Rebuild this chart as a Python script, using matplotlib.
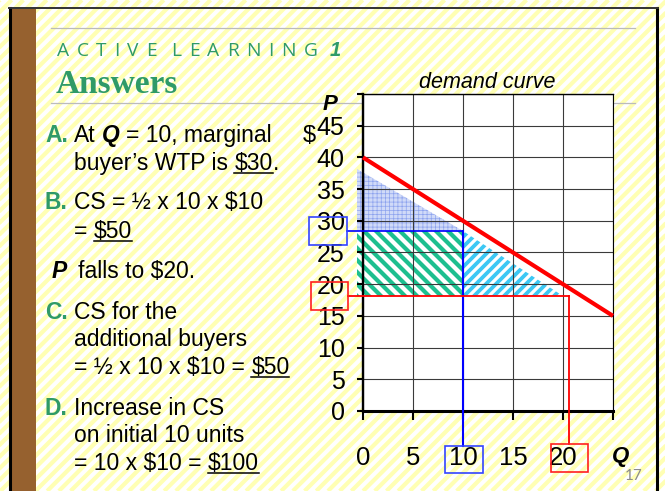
import numpy as np
import matplotlib
matplotlib.use('Agg')
import matplotlib.pyplot as plt
from matplotlib.patches import Polygon, Rectangle
from matplotlib.collections import LineCollection

plt.rcParams['font.family'] = ['Liberation Sans', 'DejaVu Sans']
plt.rcParams['hatch.linewidth'] = 0.5

W, H = 665, 491
GREEN = '#2F9A68'

# chart data
q_ticks = [0, 5, 10, 15, 20, 25]
q_labels = ['0', '5', '10', '15', '20', '']
p_ticks = [0, 5, 10, 15, 20, 25, 30, 35, 40, 45, 50]
p_labels = ['0', '5', '10', '15', '20', '25', '30', '35', '40', '45', '']

demand_q = [0, 25]
demand_p = [40, 15]

# shaded areas as drawn on the slide (slightly below the true prices)
old_line = 28.4
new_line = 18.2
old_q = 10
new_q = 20.6
cs_old_q = [-0.6, -0.6, 10]
cs_old_p = [38.1, 28.4, 28.4]
rect_q = [-0.6, 10, 10, -0.6]
rect_p = [28.4, 28.4, 18.2, 18.2]
extra_q = [10, 10, 20]
extra_p = [28.4, 18.2, 18.2]

# answer text: baseline, label, label style, runs (text, style, space before)
answer_rows = [
    (141.7, 'A.', 'lab', [('At', 'n', 0), ('Q', 'bi', 1), ('= 10, marginal', 'n', 1)]),
    (170.0, '', 'lab', [('buyer\u2019s WTP is', 'n', 0), ('$30', 'u', 1), ('.', 'n', 0)]),
    (209.3, 'B.', 'lab', [('CS = \u00bd x 10 x $10', 'n', 0)]),
    (237.7, '', 'lab', [('=', 'n', 0), ('$50', 'u', 1)]),
    (278.3, 'P', 'bi', [('falls to $20.', 'n', 0)]),
    (319.0, 'C.', 'lab', [('CS for the', 'n', 0)]),
    (345.7, '', 'lab', [('additional buyers', 'n', 0)]),
    (374.0, '', 'lab', [('= \u00bd x 10 x $10 =', 'n', 0), ('$50', 'u', 1)]),
    (415.0, 'D.', 'lab', [('Increase in CS', 'n', 0)]),
    (441.7, '', 'lab', [('on initial 10 units', 'n', 0)]),
    (470.0, '', 'lab', [('= 10 x $10 =', 'n', 0), ('$100', 'u', 1)]),
]

fig = plt.figure(figsize=(W / 100, H / 100), dpi=100)
bg = fig.add_axes([0, 0, 1, 1], zorder=0)
bg.set_xlim(0, W)
bg.set_ylim(H, 0)
bg.axis('off')
renderer = fig.canvas.get_renderer()


def stripes(axes, clip, spacing, width, color, rising=True):
    offs = np.arange(-H, W + H, spacing)
    if rising:
        segs = [[(o, H), (o + H, 0)] for o in offs]
    else:
        segs = [[(o, 0), (o + H, H)] for o in offs]
    lc = LineCollection(segs, colors=color, linewidths=width * 0.72,
                        transform=bg.transData, zorder=1.5)
    lc.set_clip_path(clip)
    axes.add_collection(lc, autolim=False)


# slide background
slide = Rectangle((11, 9), 646, 490, facecolor='white', edgecolor='none')
bg.add_patch(slide)
stripes(bg, slide, 11.7, 4.2, '#FFFFB4')
bg.add_patch(Rectangle((12, 9), 24, 490, facecolor='#96612F', edgecolor='none', zorder=3))
bg.plot([10, 10], [8, H], color='black', lw=2.2, zorder=4)
bg.plot([657, 657], [8, H], color='black', lw=2.2, zorder=4)
bg.plot([9, 658], [8, 8], color='#333333', lw=1.4, zorder=4)
bg.plot([51, 635], [28, 28], color='#BBBBBB', lw=0.9, zorder=2)
bg.plot([51, 635], [103, 103], color='#BBBBBB', lw=0.9, zorder=2)

# title
x = 57
for ch in 'ACTIVE LEARNING':
    if ch == ' ':
        x += 7
        continue
    t = bg.text(x, 56, ch, fontsize=13.8, color=GREEN, family='Open Sans',
                va='baseline', ha='left', zorder=5)
    x = t.get_window_extent(renderer).x1 + 7.6
bg.text(x + 5, 56, '1', fontsize=14.5, color=GREEN, fontweight='bold',
        fontstyle='italic', va='baseline', ha='left', zorder=5)
bg.text(56, 93.3, 'Answers', fontsize=24, color=GREEN, fontweight='bold',
        family='Liberation Serif', va='baseline', ha='left', zorder=5)

# answer text
FS = 16.5
styles = {
    'n': dict(fontsize=FS, color='black'),
    'u': dict(fontsize=FS, color='black'),
    'bi': dict(fontsize=FS, color='black', fontweight='bold', fontstyle='italic'),
    'lab': dict(fontsize=FS, color=GREEN, fontweight='bold'),
}
space = 0.278 * FS * 100 / 72
for base, label, lstyle, runs in answer_rows:
    if label:
        lx = 51.7 if lstyle == 'bi' else 45
        bg.text(lx, base, label, va='baseline', ha='left', zorder=5, **styles[lstyle])
    x = 78 if lstyle == 'bi' else 74
    for i, (s, st, sp) in enumerate(runs):
        if i > 0:
            x += space if sp else 0
        t = bg.text(x, base, s, va='baseline', ha='left', zorder=5, **styles[st])
        bb = t.get_window_extent(renderer)
        if st == 'u':
            bg.plot([bb.x0, bb.x1], [base + 2.8, base + 2.8], color='black', lw=1.1, zorder=5)
        x = bb.x1

# chart
ax = fig.add_axes([363 / W, 1 - 411 / H, 250 / W, 317 / H], zorder=2)
ax.set_xlim(0, 25)
ax.set_ylim(0, 50)
ax.set_facecolor('white')
ax.set_xticks(q_ticks, q_labels)
ax.set_yticks(p_ticks, p_labels)
ax.grid(True, color='#3a3a3a', lw=0.8, zorder=2.5)
ax.set_axisbelow(False)
ax.tick_params(axis='y', direction='out', length=4.3, width=1.5, pad=9, labelsize=18)
ax.tick_params(axis='x', direction='out', length=6.5, width=1.5, pad=19, labelsize=18.5)
ax.spines['left'].set_linewidth(1.7)
ax.spines['bottom'].set_linewidth(2.2)
ax.spines['top'].set_linewidth(1.0)
ax.spines['right'].set_linewidth(0.8)
for s in ax.spines.values():
    s.set_zorder(3)

tri_old = Polygon(list(zip(cs_old_q, cs_old_p)), facecolor='#D0DAF8', edgecolor='#8DA3EE',
                  hatch='++++', lw=0, clip_on=False, zorder=1)
ax.add_patch(tri_old)
rect = Polygon(list(zip(rect_q, rect_p)), facecolor='white', edgecolor='none',
               clip_on=False, zorder=1)
ax.add_patch(rect)
tri_new = Polygon(list(zip(extra_q, extra_p)), facecolor='white', edgecolor='none',
                  clip_on=False, zorder=1)
ax.add_patch(tri_new)
stripes(ax, rect, 12, 4.2, '#1DBF8F', rising=False)
stripes(ax, tri_new, 10, 3.8, '#3CC8F4', rising=True)

ax.plot(demand_q, demand_p, color='#FF0000', lw=3.0, solid_capstyle='butt',
        clip_on=False, zorder=5)

# price / quantity markers
ax.plot([-1.6, old_q], [old_line, old_line], color='#0000FF', lw=1.2, clip_on=False, zorder=6)
ax.plot([old_q, old_q], [old_line, -5.5], color='#0000FF', lw=1.5, clip_on=False, zorder=6)
ax.plot([-1.5, new_q], [new_line, new_line], color='#FF0000', lw=1.3, clip_on=False, zorder=6)
ax.plot([new_q, new_q], [new_line, -5.2], color='#FF0000', lw=1.3, clip_on=False, zorder=6)
for (bq, bp, bw, bh), c in [((-5.4, 26.2, 3.8, 4.4), '#3344FF'),
                            ((-5.2, 16.0, 3.7, 4.4), '#FF2020'),
                            ((8.2, -9.8, 3.8, 4.3), '#3344FF'),
                            ((18.8, -9.6, 3.7, 4.4), '#FF2020')]:
    ax.add_patch(Rectangle((bq, bp), bw, bh, fill=False, edgecolor=c, lw=1.2,
                           clip_on=False, zorder=6))

bg.text(330, 110, 'P', fontsize=16, fontweight='bold', fontstyle='italic',
        ha='center', va='baseline', zorder=5)
bg.text(309, 136, '$', fontsize=17, ha='center', va='center', zorder=5)
bg.text(621, 462, 'Q', fontsize=16, fontweight='bold', fontstyle='italic',
        ha='center', va='baseline', zorder=5)
bg.text(487, 88, 'demand curve', fontsize=15.5, fontstyle='italic',
        ha='center', va='baseline', zorder=5)
bg.text(634, 480, '17', fontsize=11, color='#8C8C8C', family='Lato',
        ha='center', va='baseline', zorder=5)

fig.savefig('out.png', dpi=100)
